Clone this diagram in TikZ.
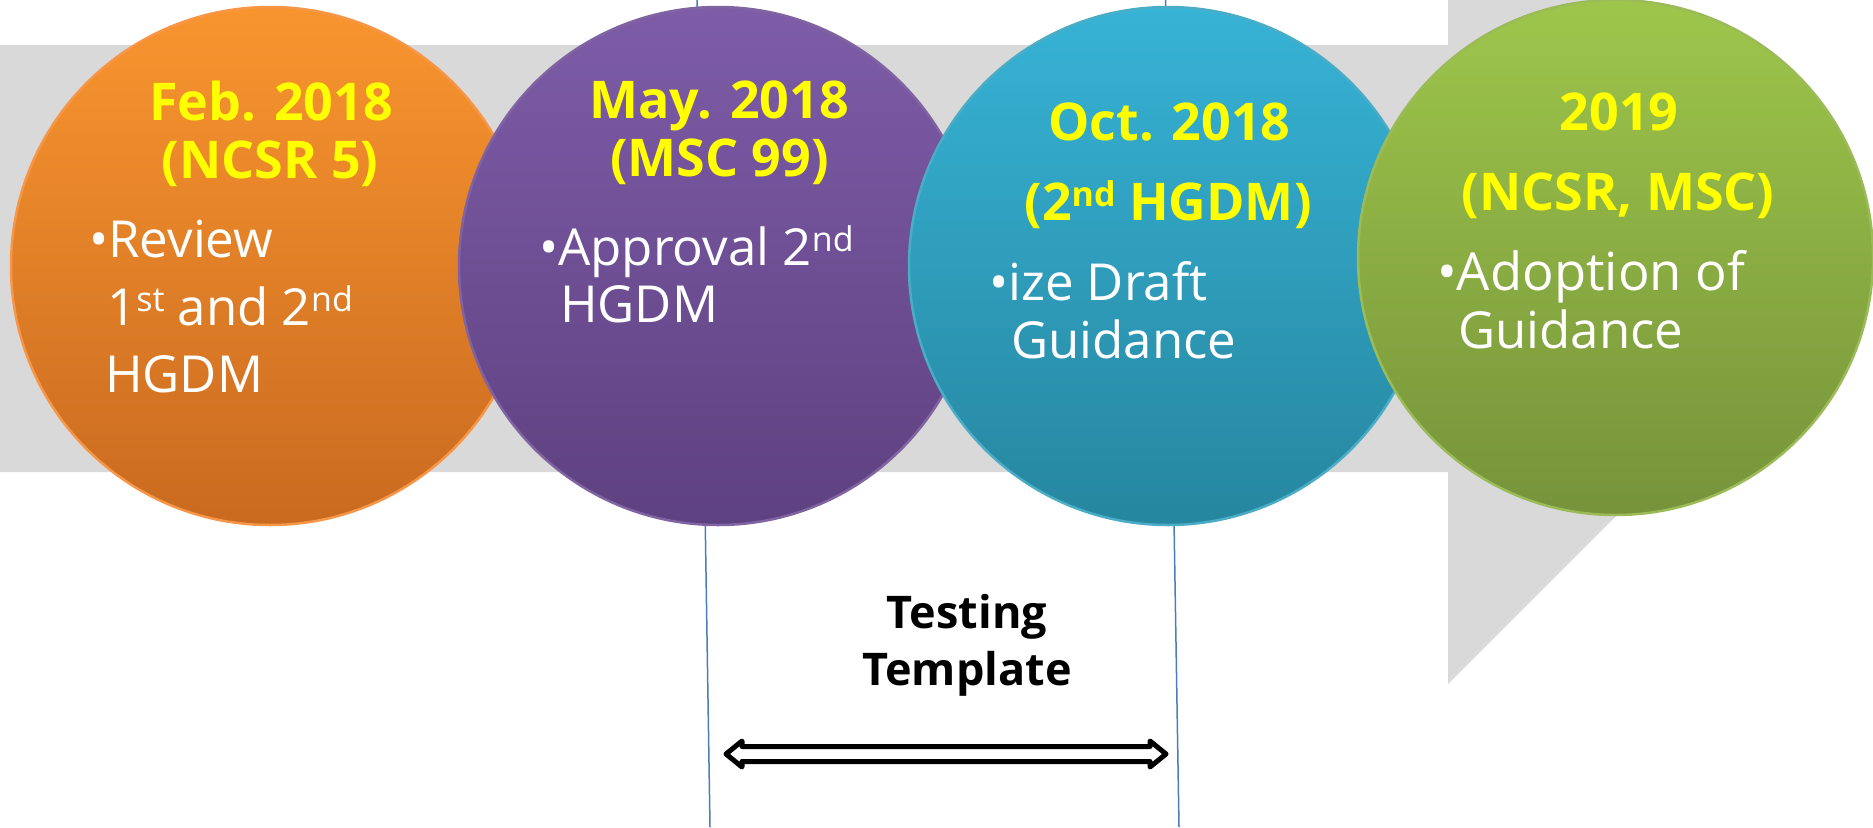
\documentclass[tikz,border=0pt]{standalone}
\usepackage{fontspec}
\setmainfont{Open Sans}
\definecolor{band}{HTML}{D9D9D9}
\definecolor{ttlyellow}{HTML}{FFFF00}
\definecolor{lineblue}{HTML}{4A7EBB}
\definecolor{orT}{HTML}{F9952F}\definecolor{orB}{HTML}{C96A20}\definecolor{orD}{HTML}{F79646}
\definecolor{puT}{HTML}{7E5CA8}\definecolor{puB}{HTML}{5E4180}\definecolor{puD}{HTML}{8064A2}
\definecolor{blT}{HTML}{37B3D6}\definecolor{blB}{HTML}{26869F}\definecolor{blD}{HTML}{4BACC6}
\definecolor{grT}{HTML}{9EC64B}\definecolor{grB}{HTML}{76933A}\definecolor{grD}{HTML}{9BBB59}
\newcommand\sups[1]{\raisebox{14pt}{\fontsize{34}{34}\selectfont #1}}
\tikzset{
  ttl/.style={text=ttlyellow, font=\bfseries\fontsize{52}{60}\selectfont, anchor=base, inner sep=0pt},
  bod/.style={text=white, font=\fontsize{51}{60}\selectfont, anchor=base west, inner sep=0pt},
  bubble/.style={circle, minimum size=518pt, inner sep=0pt, line width=2.5pt},
  guide/.style={draw=lineblue, line width=1.5pt},
  lbl/.style={text=black, font=\bfseries\fontsize{45}{55}\selectfont, anchor=base, inner sep=0pt},
  dblarrow/.style={fill=white, draw=black, line width=5pt, line join=round},
}
\begin{document}
\begin{tikzpicture}[x=1pt,y=-1pt]
\useasboundingbox (0,0) rectangle (1873,827);
% gray arrow
\fill[band] (0,45) -- (1448,45) -- (1448,-167) -- (1873.5,258.5) -- (1448,684) -- (1448,472) -- (0,472) -- cycle;
% guide lines
\coordinate (l1t) at (697,0); \coordinate (l1b) at (710,827);
\coordinate (l2t) at (1165.5,0); \coordinate (l2b) at (1179,827);
\draw[guide] (l1t) -- (l1b);
\draw[guide] (l2t) -- (l2b);
% circles
\node[bubble, top color=orT, bottom color=orB, draw=orD] (c1) at (270,266) {};
\node[bubble, top color=puT, bottom color=puB, draw=puD] (c2) at (718,266) {};
\node[bubble, top color=blT, bottom color=blB, draw=blD] (c3) at (1168,266) {};
\node[bubble, minimum size=515pt, top color=grT, bottom color=grB, draw=grD] (c4) at (1615.5,257.5) {};
% orange texts
\node[ttl] (t1a) at (271,120.5) {Feb. 2018};
\node[ttl] (t1b) at (270,178) {(NCSR 5)};
\node[bod] (b1a) at (89,257.5) {•Review};
\node[bod] (b1b) at (107,325) {1\sups{st} and 2\sups{nd}};
\node[bod] (b1c) at (105,392) {HGDM};
% purple texts
\node[ttl] (t2a) at (719,118) {May. 2018};
\node[ttl] (t2b) at (719.5,176) {(MSC 99)};
\node[bod] (b2a) at (539,265) {•Approval 2\sups{nd}};
\node[bod] (b2b) at (560,322.5) {HGDM};
% blue texts
\node[ttl] (t3a) at (1169.5,140.5) {Oct. 2018};
\node[ttl] (t3b) at (1168,220) {(2\sups{nd} HGDM)};
\node[bod] (b3a) at (989,300) {•ize Draft};
\node[bod] (b3b) at (1011,358) {Guidance};
% green texts
\node[ttl] (t4a) at (1619,130) {2019};
\node[ttl] (t4b) at (1618,210) {(NCSR, MSC)};
\node[bod, font=\fontsize{52.5}{60}\selectfont] (b4a) at (1437,290) {•Adoption of};
\node[bod] (b4b) at (1458,348) {Guidance};
% testing template
\node[lbl] (tt1) at (967,628) {Testing};
\node[lbl] (tt2) at (967,685.6) {Template};
% double arrow
\draw[dblarrow]
  (726,754) -- (742,741) -- (742,746.5) -- (1150,746.5) -- (1150,741) -- (1166,754)
  -- (1150,767) -- (1150,761.5) -- (742,761.5) -- (742,767) -- cycle;
\end{tikzpicture}
\end{document}
